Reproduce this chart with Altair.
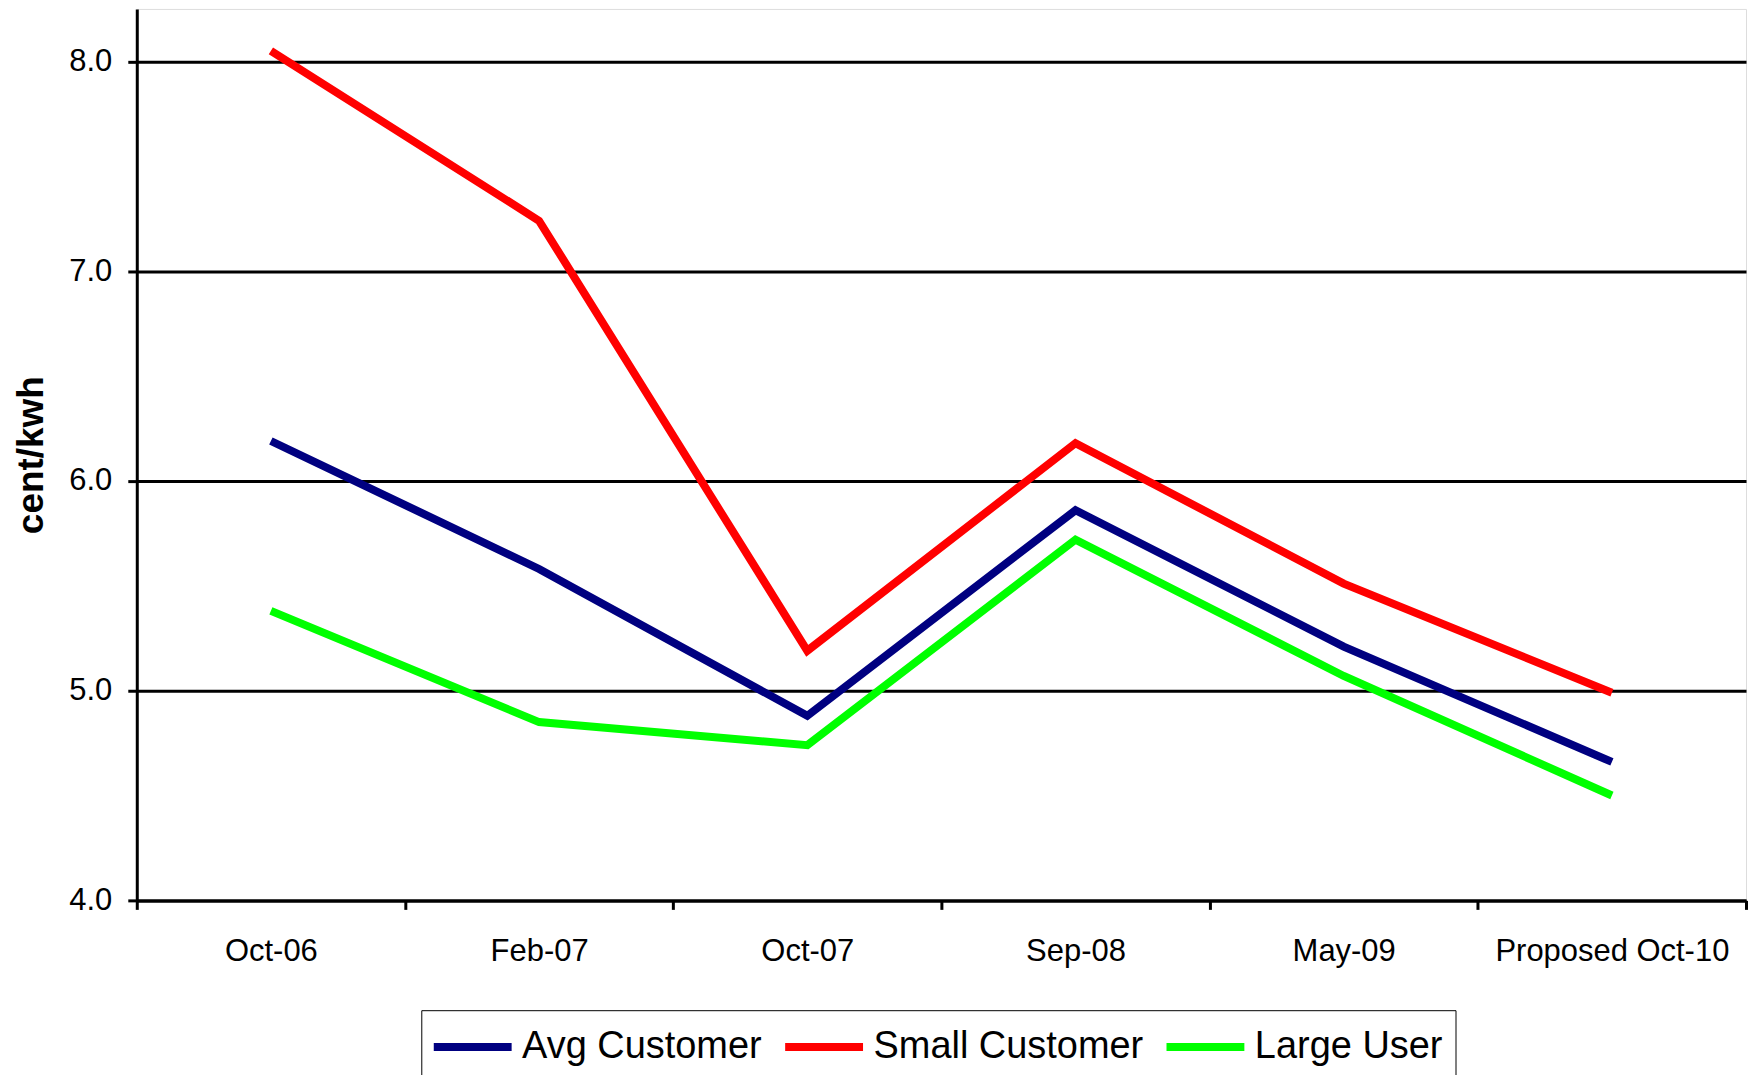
import altair as alt
import pandas as pd

periods = ["Oct-06", "Feb-07", "Oct-07", "Sep-08", "May-09", "Proposed Oct-10"]
series_names = ["Avg Customer", "Small Customer", "Large User"]
avg_customer = [6.19, 5.58, 4.88, 5.86, 5.21, 4.66]
small_customer = [8.05, 7.24, 5.19, 6.18, 5.51, 4.99]
large_user = [5.38, 4.85, 4.74, 5.72, 5.07, 4.50]
y_ticks = [4.0, 5.0, 6.0, 7.0, 8.0]

colors = ["#000080", "#FF0000", "#00FF00"]
widths = [8, 8, 5]

rows = []
for name, vals in zip(series_names, [avg_customer, small_customer, large_user]):
    for p, v in zip(periods, vals):
        rows.append({"period": p, "series": name, "value": v})
df = pd.DataFrame(rows)

FONT = "Liberation Sans"

chart = alt.Chart(df).mark_line().encode(
    x=alt.X("period:N", sort=periods, title=None,
            scale=alt.Scale(paddingInner=0, paddingOuter=0),
            axis=alt.Axis(labelAngle=0, tickBand="extent", tickSize=9, tickWidth=3,
                          tickColor="black", domainColor="black", domainWidth=3,
                          labelFontSize=31, labelFont=FONT, labelColor="black",
                          labelPadding=27, labelLimit=0, grid=False)),
    y=alt.Y("value:Q", title="cent/kwh",
            scale=alt.Scale(domain=[4.0, 8.25], nice=False, zero=False),
            axis=alt.Axis(values=y_ticks, format=".1f", tickSize=9, tickWidth=3,
                          tickColor="black", domainColor="black", domainWidth=3,
                          gridColor="black", gridWidth=3, gridOpacity=1,
                          labelFontSize=31, labelFont=FONT, labelColor="black",
                          labelPadding=16, titleFont=FONT, titleFontSize=37,
                          titleFontWeight="bold", titleColor="black", titlePadding=18)),
    color=alt.Color("series:N", sort=series_names,
                    scale=alt.Scale(domain=series_names, range=colors),
                    legend=alt.Legend(title=None, orient="none", direction="horizontal",
                                      legendX=285, legendY=1003,
                                      symbolType="M-2,0H2", symbolStrokeWidth=9,
                                      symbolSize=1521, symbolOffset=15,
                                      labelFontSize=38, labelFont=FONT,
                                      labelColor="black", labelOffset=26,
                                      columnPadding=6, strokeColor="black",
                                      padding=13, labelLimit=0)),
    strokeWidth=alt.StrokeWidth("series:N",
                                scale=alt.Scale(domain=series_names, range=widths),
                                legend=None),
).properties(
    width=1612, height=893,
    padding={"left": 4, "top": 0, "right": 0, "bottom": 0},
).configure_view(
    stroke="#808080", strokeWidth=3
).configure(background="white")

chart.save("out.html", embed_options={"renderer": "svg", "actions": False})
